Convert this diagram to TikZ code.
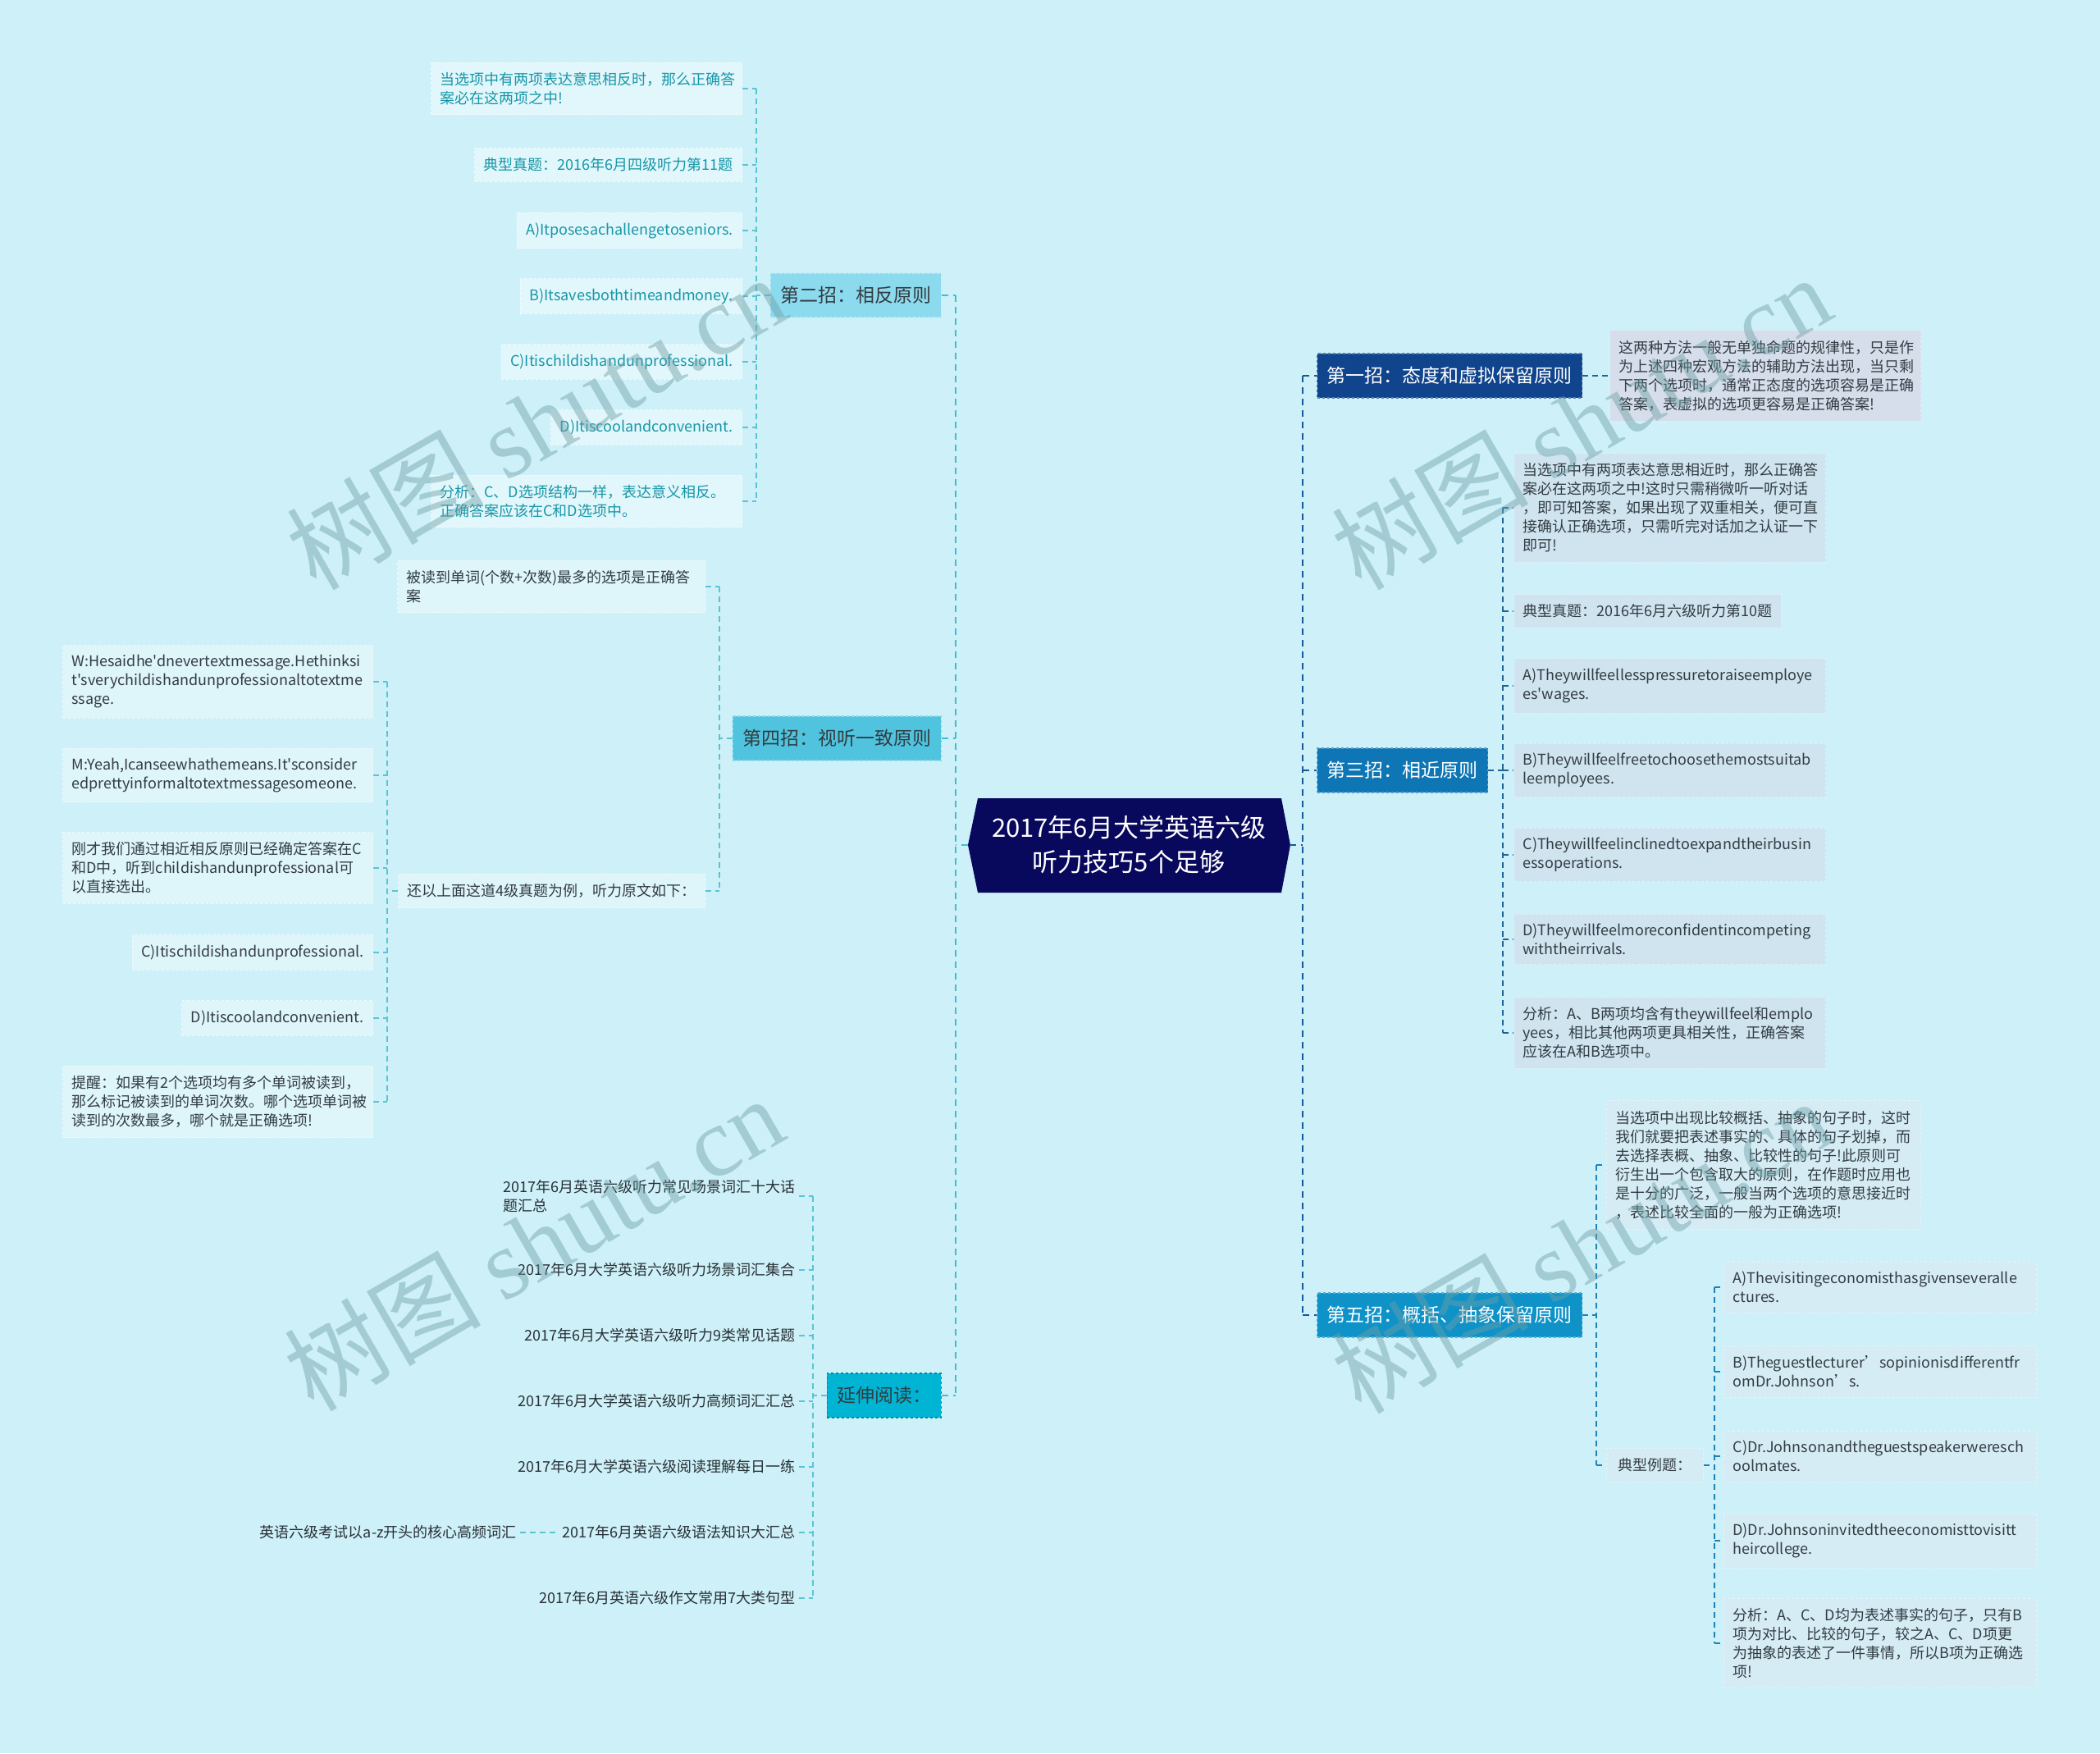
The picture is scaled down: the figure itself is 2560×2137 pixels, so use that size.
\documentclass[tikz,border=0pt]{standalone}
\usepackage{fontspec}
\newfontfamily\nsc{Noto Sans CJK SC}
\newfontfamily\wmser{Liberation Serif}
\usetikzlibrary{calc}
\definecolor{bgc}{RGB}{206,240,248}
\definecolor{rootc}{RGB}{8,8,92}
\definecolor{hAc}{RGB}{140,218,238}
\definecolor{hBc}{RGB}{80,196,222}
\definecolor{hCc}{RGB}{0,180,212}
\definecolor{hDc}{RGB}{16,68,140}
\definecolor{hEc}{RGB}{14,118,180}
\definecolor{hFc}{RGB}{14,146,200}
\definecolor{lfA}{RGB}{226,247,251}
\definecolor{lfB}{RGB}{222,245,250}
\definecolor{lfD}{RGB}{214,221,235}
\definecolor{lfE}{RGB}{208,228,240}
\definecolor{lfF}{RGB}{214,236,245}
\definecolor{tealT}{RGB}{22,150,168}
\definecolor{darkT}{RGB}{50,60,66}
\definecolor{lnL}{RGB}{60,190,214}
\definecolor{lnA}{RGB}{90,196,210}
\definecolor{lnR}{RGB}{20,90,150}
\definecolor{lnE}{RGB}{30,100,150}
\definecolor{lnF}{RGB}{30,130,180}
\definecolor{wmc}{RGB}{110,160,166}
\tikzset{
  base/.style={font=\nsc\fontsize{18}{23}\selectfont, inner xsep=11pt, inner ysep=12pt, align=left},
  leafA/.style={base, fill=lfA, text=tealT, draw=white!55!lfA, dashed, line width=1pt},
  leafB/.style={base, fill=lfB, text=darkT, draw=white!55!lfB, dashed, line width=1pt},
  leafD/.style={base, fill=lfD, text=darkT, draw=white!40!lfD, dashed, line width=1pt},
  leafE/.style={base, fill=lfE, text=darkT, draw=white!40!lfE, dashed, line width=1pt},
  leafF/.style={base, fill=lfF, text=darkT, draw=white!40!lfF, dashed, line width=1pt},
  plain/.style={font=\nsc\fontsize{18}{23}\selectfont, inner sep=4pt, align=left, text=darkT!80!black},
  head/.style={font=\nsc\fontsize{23}{28}\selectfont, inner xsep=12pt, inner ysep=0pt, minimum height=54pt, dashed, line width=1.3pt},
  rootT/.style={font=\nsc\fontsize{31}{42}\selectfont, text=white, align=center, inner sep=0pt, minimum width=392pt, minimum height=115pt},
  cL/.style={draw=lnL, line width=2.4pt, dash pattern=on 8pt off 6pt},
  cR/.style={draw=lnR, line width=2.4pt, dash pattern=on 8pt off 6pt},
  cA/.style={draw=lnA, line width=1.5pt, dash pattern=on 7pt off 5pt},
  cE/.style={draw=lnE, line width=1.5pt, dash pattern=on 7pt off 5pt},
  cF/.style={draw=lnF, line width=1.5pt, dash pattern=on 7pt off 5pt},
  wm/.style={font=\fontsize{120}{130}\selectfont, text=wmc, text opacity=0.45, inner sep=0pt}
}
\begin{document}
\begin{tikzpicture}[x=1pt,y=-1pt]
\useasboundingbox (0,0) rectangle (2560,2137);
\fill[bgc] (0,0) rectangle (2560,2137);

% ---------- root ----------
\coordinate (rc) at (1376,1030);
\fill[rootc] ($(rc)+(-196,0)$) -- ($(rc)+(-184,-57)$) -- ($(rc)+(186,-57)$) -- ($(rc)+(197,0)$) -- ($(rc)+(186,58)$) -- ($(rc)+(-184,58)$) -- cycle;
\node[rootT] (root) at (rc) {2017年6月大学英语六级\\听力技巧5个足够};

% ---------- trunk coordinates ----------
\coordinate (tL) at (1165,0);
\coordinate (tR) at (1588,0);
\coordinate (tA) at (922,0);
\coordinate (tB) at (877,0);
\coordinate (tC) at (472,0);
\coordinate (tY) at (991,0);
\coordinate (tE) at (1832,0);
\coordinate (tF) at (1946,0);
\coordinate (tG) at (2090,0);

% ---------- left headers ----------
\node[head, fill=hAc, draw=white!45!hAc, text=darkT, anchor=east] (h2) at (1148,360) {第二招：相反原则};
\node[head, fill=hBc, draw=white!35!hBc, text=darkT, anchor=east] (h4) at (1148,900) {第四招：视听一致原则};
\node[head, fill=hCc, draw=black!25!hCc, text=darkT, anchor=east] (hY) at (1148,1701) {延伸阅读：};

% ---------- right headers ----------
\node[head, fill=hDc, draw=white!30!hDc, text=white, anchor=west] (h1) at (1605,458) {第一招：态度和虚拟保留原则};
\node[head, fill=hEc, draw=white!30!hEc, text=white, anchor=west] (h3) at (1605,939) {第三招：相近原则};
\node[head, fill=hFc, draw=white!30!hFc, text=white, anchor=west] (h5) at (1605,1603) {第五招：概括、抽象保留原则};

% ---------- 第二招 children ----------
\node[leafA, anchor=east, text width=357pt] (a1) at (905,108) {当选项中有两项表达意思相反时，那么正确答\\案必在这两项之中!};
\node[leafA, anchor=east] (a2) at (905,201) {典型真题：2016年6月四级听力第11题};
\node[leafA, anchor=east] (a3) at (905,281) {A)Itposesachallengetoseniors.};
\node[leafA, anchor=east] (a4) at (905,361) {B)Itsavesbothtimeandmoney.};
\node[leafA, anchor=east] (a5) at (905,441) {C)Itischildishandunprofessional.};
\node[leafA, anchor=east] (a6) at (905,521) {D)Itiscoolandconvenient.};
\node[leafA, anchor=east, text width=357pt] (a7) at (905,611) {分析：C、D选项结构一样，表达意义相反。\\正确答案应该在C和D选项中。};

% ---------- 第四招 children ----------
\node[leafB, anchor=east, text width=353pt] (b1) at (860,715) {被读到单词(个数+次数)最多的选项是正确答\\案};
\node[leafB, anchor=east] (b2) at (860,1086) {还以上面这道4级真题为例，听力原文如下：};
\node[leafB, anchor=east, text width=356pt] (c1) at (455,831) {W:Hesaidhe'dnevertextmessage.Hethinksi\\t'sverychildishandunprofessionaltotextme\\ssage.};
\node[leafB, anchor=east, text width=356pt] (c2) at (455,945) {M:Yeah,Icanseewhathemeans.It'sconsider\\edprettyinformaltotextmessagesomeone.};
\node[leafB, anchor=east, text width=356pt] (c3) at (455,1058) {刚才我们通过相近相反原则已经确定答案在C\\和D中，听到childishandunprofessional可\\以直接选出。};
\node[leafB, anchor=east] (c4) at (455,1161) {C)Itischildishandunprofessional.};
\node[leafB, anchor=east] (c5) at (455,1241) {D)Itiscoolandconvenient.};
\node[leafB, anchor=east, text width=356pt] (c6) at (455,1343) {提醒：如果有2个选项均有多个单词被读到，\\那么标记被读到的单词次数。哪个选项单词被\\读到的次数最多，哪个就是正确选项!};

% ---------- 延伸阅读 children ----------
\node[plain, anchor=east] (y1) at (974,1458) {2017年6月英语六级听力常见场景词汇十大话\\题汇总};
\node[plain, anchor=east] (y2) at (974,1548) {2017年6月大学英语六级听力场景词汇集合};
\node[plain, anchor=east] (y3) at (974,1628) {2017年6月大学英语六级听力9类常见话题};
\node[plain, anchor=east] (y4) at (974,1708) {2017年6月大学英语六级听力高频词汇汇总};
\node[plain, anchor=east] (y5) at (974,1788) {2017年6月大学英语六级阅读理解每日一练};
\node[plain, anchor=east] (y6) at (974,1868) {2017年6月英语六级语法知识大汇总};
\node[plain, anchor=east] (y7) at (974,1948) {2017年6月英语六级作文常用7大类句型};
\node[plain, anchor=east] (z1) at (634,1868) {英语六级考试以a-z开头的核心高频词汇};

% ---------- 第一招 child ----------
\node[leafD, anchor=west, text width=357pt] (d1) at (1962,458) {这两种方法一般无单独命题的规律性，只是作\\为上述四种宏观方法的辅助方法出现，当只剩\\下两个选项时，通常正态度的选项容易是正确\\答案，表虚拟的选项更容易是正确答案!};

% ---------- 第三招 children ----------
\node[leafE, anchor=west, text width=358pt] (e1) at (1845,619) {当选项中有两项表达意思相近时，那么正确答\\案必在这两项之中!这时只需稍微听一听对话\\，即可知答案，如果出现了双重相关，便可直\\接确认正确选项，只需听完对话加之认证一下\\即可!};
\node[leafE, anchor=west] (e2) at (1845,745) {典型真题：2016年6月六级听力第10题};
\node[leafE, anchor=west, text width=358pt] (e3) at (1845,836) {A)Theywillfeellesspressuretoraiseemploye\\es'wages.};
\node[leafE, anchor=west, text width=358pt] (e4) at (1845,939) {B)Theywillfeelfreetochoosethemostsuitab\\leemployees.};
\node[leafE, anchor=west, text width=358pt] (e5) at (1845,1042) {C)Theywillfeelinclinedtoexpandtheirbusin\\essoperations.};
\node[leafE, anchor=west, text width=358pt] (e6) at (1845,1145) {D)Theywillfeelmoreconfidentincompeting\\withtheirrivals.};
\node[leafE, anchor=west, text width=358pt] (e7) at (1845,1259) {分析：A、B两项均含有theywillfeel和emplo\\yees，相比其他两项更具相关性，正确答案\\应该在A和B选项中。};

% ---------- 第五招 children ----------
\node[leafF, anchor=west, text width=361pt] (f1) at (1958,1420) {当选项中出现比较概括、抽象的句子时，这时\\我们就要把表述事实的、具体的句子划掉，而\\去选择表概、抽象、比较性的句子!此原则可\\衍生出一个包含取大的原则，在作题时应用也\\是十分的广泛，一般当两个选项的意思接近时\\，表述比较全面的一般为正确选项!};
\node[leafF, anchor=west, inner xsep=14pt] (f2) at (1958,1786) {典型例题：};
\node[leafF, anchor=west, text width=359pt] (g1) at (2101,1569) {A)Thevisitingeconomisthasgivenseveralle\\ctures.};
\node[leafF, anchor=west, text width=359pt] (g2) at (2101,1672) {B)Theguestlecturer’sopinionisdifferentfr\\omDr.Johnson’s.};
\node[leafF, anchor=west, text width=359pt] (g3) at (2101,1775) {C)Dr.Johnsonandtheguestspeakerweresch\\oolmates.};
\node[leafF, anchor=west, text width=359pt] (g4) at (2101,1878) {D)Dr.Johnsoninvitedtheeconomisttovisitt\\heircollege.};
\node[leafF, anchor=west, text width=359pt] (g5) at (2101,2003) {分析：A、C、D均为表述事实的句子，只有B\\项为对比、比较的句子，较之A、C、D项更\\为抽象的表述了一件事情，所以B项为正确选\\项!};

% ---------- main trunks ----------
\draw[cL] (root.west) -- (root.west -| tL);
\draw[cL] (h2.east -| tL) -- (hY.east -| tL);
\draw[cL] (h2.east) -- (h2.east -| tL);
\draw[cL] (h4.east) -- (h4.east -| tL);
\draw[cL] (hY.east) -- (hY.east -| tL);
\draw[cR] (root.east) -- (root.east -| tR);
\draw[cR] (h1.west -| tR) -- (h5.west -| tR);
\draw[cR] (h1.west -| tR) -- (h1.west);
\draw[cR] (h3.west -| tR) -- (h3.west);
\draw[cR] (h5.west -| tR) -- (h5.west);

% ---------- 第二招 connectors ----------
\draw[cA] (h2.west) -- (h2.west -| tA);
\draw[cA] (a1.east -| tA) -- (a7.east -| tA);
\foreach \n in {a1,a2,a3,a4,a5,a6,a7} \draw[cA] (\n.east) -- (\n.east -| tA);

% ---------- 第四招 connectors ----------
\draw[cA] (h4.west) -- (h4.west -| tB);
\draw[cA] (b1.east -| tB) -- (b2.east -| tB);
\draw[cA] (b1.east) -- (b1.east -| tB);
\draw[cA] (b2.east) -- (b2.east -| tB);
\draw[cA] (b2.west) -- (b2.west -| tC);
\draw[cA] (c1.east -| tC) -- (c6.east -| tC);
\foreach \n in {c1,c2,c3,c4,c5,c6} \draw[cA] (\n.east) -- (\n.east -| tC);

% ---------- 延伸阅读 connectors ----------
\draw[cA] (hY.west) -- (hY.west -| tY);
\draw[cA] (y1.east -| tY) -- (y7.east -| tY);
\foreach \n in {y1,y2,y3,y4,y5,y6,y7} \draw[cA] (\n.east) -- (\n.east -| tY);
\draw[cA] (z1.east) -- (y6.west);

% ---------- 第一招 connector ----------
\draw[cE] (h1.east) -- (d1.west);

% ---------- 第三招 connectors ----------
\draw[cE] (h3.east) -- (h3.east -| tE);
\draw[cE] (e1.west -| tE) -- (e7.west -| tE);
\foreach \n in {e1,e2,e3,e4,e5,e6,e7} \draw[cE] (\n.west -| tE) -- (\n.west);

% ---------- 第五招 connectors ----------
\draw[cF] (h5.east) -- (h5.east -| tF);
\draw[cF] (f1.west -| tF) -- (f2.west -| tF);
\draw[cF] (f1.west -| tF) -- (f1.west);
\draw[cF] (f2.west -| tF) -- (f2.west);
\draw[cF] (f2.east) -- (f2.east -| tG);
\draw[cF] (g1.west -| tG) -- (g5.west -| tG);
\foreach \n in {g1,g2,g3,g4,g5} \draw[cF] (\n.west -| tG) -- (\n.west);

% ---------- watermarks ----------
\node[wm, rotate=30] (wm1) at (653,514) {\nsc 树图 \wmser shutu.cn};
\node[wm, rotate=30] (wm2) at (1927,514) {\nsc 树图 \wmser shutu.cn};
\node[wm, rotate=30] (wm3) at (650,1515) {\nsc 树图 \wmser shutu.cn};
\node[wm, rotate=30] (wm4) at (1927,1518) {\nsc 树图 \wmser shutu.cn};
\end{tikzpicture}
\end{document}
